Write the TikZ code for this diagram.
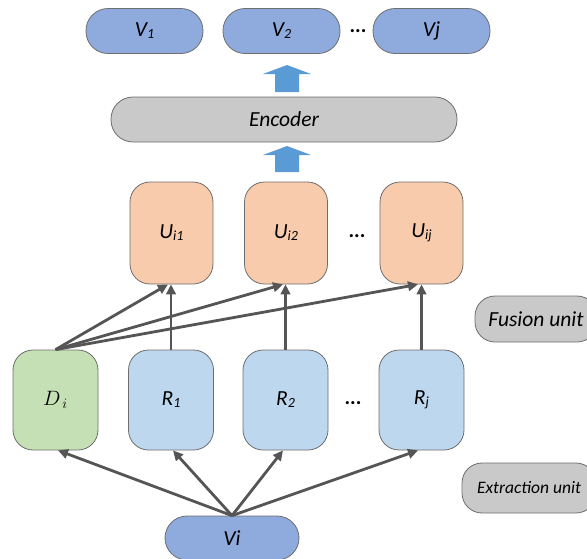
\documentclass[tikz,border=0pt]{standalone}
\usepackage{fontspec}
\setmainfont{Carlito}
\usetikzlibrary{arrows.meta,calc}

\definecolor{vblue}{HTML}{8FAADC}
\definecolor{encgray}{HTML}{C9C9C9}
\definecolor{upeach}{HTML}{F8CBAD}
\definecolor{dgreen}{HTML}{C5E0B4}
\definecolor{rblue}{HTML}{BDD7EE}
\definecolor{flowblue}{HTML}{5B9BD5}
\definecolor{edgegray}{HTML}{6E6E6E}
\definecolor{linkgray}{HTML}{555555}

% smaller, slightly lowered index
\newcommand\lsub[1]{\raisebox{-0.2ex}{\fontsize{14}{14}\selectfont #1}}

\begin{document}
\begin{tikzpicture}[x=1pt,y=-1pt,
  box/.style={draw=edgegray, line width=0.8pt, inner sep=0pt,
              font=\fontsize{21.5}{21.5}\selectfont\itshape},
  pill/.style={box, rounded corners=22pt, minimum height=45pt},
  tile/.style={box, rounded corners=20pt},
  utile/.style={tile, fill=upeach, minimum width=83pt, minimum height=102pt},
  rtile/.style={tile, fill=rblue, minimum width=85pt, minimum height=100pt},
  vpill/.style={pill, fill=vblue, minimum width=117pt},
  legend/.style={box, fill=encgray, rounded corners=20pt},
  dots/.style={font=\fontsize{21}{21}\selectfont\bfseries},
  link/.style={draw=linkgray, line width=2.8pt,
               -{Triangle[length=10pt,width=9.5pt]}},
  flow/.style={fill=flowblue}
]
\useasboundingbox (0,0) rectangle (587,558);
\clip (0,0) rectangle (587,558);

% output sequence
\node[vpill] (v1) at (144.5,31) {V\lsub{1}};
\node[vpill] (v2) at (281.5,31) {V\lsub{2}};
\node[vpill] (vj) at (431.5,31) {Vj};
\node[dots] (vdots) at (358,31) {...};

% encoder and the two flow arrows
\fill[flow] (275,92) -- (275,74) -- (263,74) -- (287,65) -- (311,74)
  -- (299,74) -- (299,92) -- cycle;
\node[pill, fill=encgray, minimum width=346pt] (enc) at (284,119.5) {Encoder};
\fill[flow] (275,172) -- (275,155) -- (263,155) -- (287,146) -- (311,155)
  -- (299,155) -- (299,172) -- cycle;

% fused units
\node[utile] (u1) at (171.5,233) {U\lsub{i1}};
\node[utile] (u2) at (286,233) {U\lsub{i2}};
\node[utile] (uj) at (421.5,233) {U\lsub{ij}};
\node[dots] (udots) at (357,236) {...};

% extracted units
\node[tile, fill=dgreen, minimum width=85pt, minimum height=100pt] (d) at (55.5,400)
  {\fontsize{21}{21}\selectfont$D_{\,i}$};
\node[rtile] (r1) at (171,400) {R\lsub{1}};
\node[rtile] (r2) at (285.5,400) {R\lsub{2}};
\node[rtile] (rj) at (421.5,400) {R\lsub{j}};
\node[dots] (rdots) at (353,403) {...};

% input
\node[pill, fill=vblue, minimum width=134pt, minimum height=44pt] (vi) at (232,538) {Vi};

% stage labels
\node[legend, minimum width=122pt, minimum height=46pt] (fus) at (536,319)
  {Fusion unit};
\node[legend, minimum width=134pt, minimum height=50pt,
      font=\fontsize{17.5}{17.5}\selectfont\itshape] (ext) at (529,488) {Extraction unit};

% fusion connections
\draw[link] (d.north) -- ($(u1.south)+(-3.5,0)$);
\draw[link] (d.north) -- ($(u2.south)+(-3,0)$);
\draw[link] (d.north) -- ($(uj.south)+(-3.5,0)$);
\draw[link] (r1.north) -- (r1.north |- u1.south);
\draw[link] (r2.north) -- (r2.north |- u2.south);
\draw[link] (rj.north) -- (rj.north |- uj.south);

% extraction connections
\draw[link] (vi.north) -- ($(d.south)+(2.5,0)$);
\draw[link] (vi.north) -- ($(r1.south)+(2,0)$);
\draw[link] (vi.north) -- ($(r2.south)+(-2.5,0)$);
\draw[link] (vi.north) -- ($(rj.south)+(-3.5,0)$);
\end{tikzpicture}
\end{document}
